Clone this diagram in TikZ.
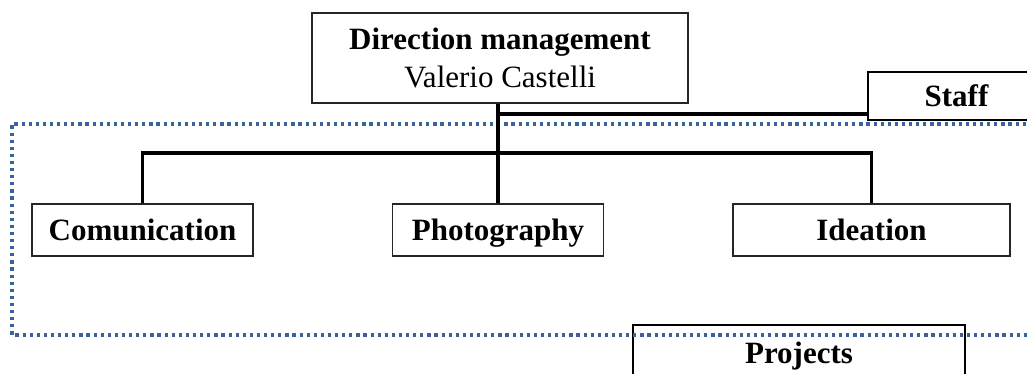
\documentclass[tikz,border=0pt]{standalone}
\usepackage{fontspec}
\setmainfont{Liberation Serif}
\definecolor{dotblue}{RGB}{58,98,155}
\begin{document}
\begin{tikzpicture}[x=1pt,y=-1pt,
  lbl/.style={font=\fontsize{31}{38}\selectfont},
  unit/.style={draw=black!85,line width=1.3pt,fill=white,inner sep=0pt,
    text height=21pt,text depth=0pt,
    font=\fontsize{31}{38}\selectfont\bfseries},
  group/.style={draw=black,line width=2.4pt,inner sep=0pt,
    text height=21pt,text depth=0pt,
    font=\fontsize{31}{38}\selectfont\bfseries},
  link/.style={draw=black,line width=3.2pt},
  area/.style={draw=dotblue,line width=3.2pt,dash pattern=on 3.2pt off 3.9pt}]
\useasboundingbox (0,0) rectangle (1027,374);
\clip (0,0) rectangle (1027,374);

% staff and projects groups
\node[group,minimum width=177pt,minimum height=48pt] (staff) at (956.5,96) {Staff};
\node[group,minimum width=332pt,minimum height=56pt] (proj) at (799,353) {Projects};

% dotted frame around the staff area
\draw[area] (1040,124) -- (12,124) -- (12,335) -- (1040,335);

% organisation boxes
\node[draw=black!85,line width=1.3pt,fill=white,inner sep=0pt,
  minimum width=376pt,minimum height=90pt,align=center,
  font=\fontsize{31}{38}\selectfont] (dir) at (500,58)
  {\bfseries Direction management\\Valerio Castelli};
\node[unit,minimum width=221pt,minimum height=52pt] (com) at (142.5,230) {Comunication};
\node[unit,minimum width=211pt,minimum height=52pt] (pho) at (498,230) {Photography};
\node[unit,minimum width=277pt,minimum height=52pt] (ide) at (871.5,230) {Ideation};

% connectors
\coordinate (bar) at (498,153);
\coordinate (sj) at (498,114);
\draw[link] (dir.south -| pho.north) -- (pho.north);
\draw[link] (com.north) -- (com.north |- bar) -- (bar -| ide.north) -- (ide.north);
\draw[link] (sj) -- (sj -| staff.west);
\end{tikzpicture}
\end{document}
